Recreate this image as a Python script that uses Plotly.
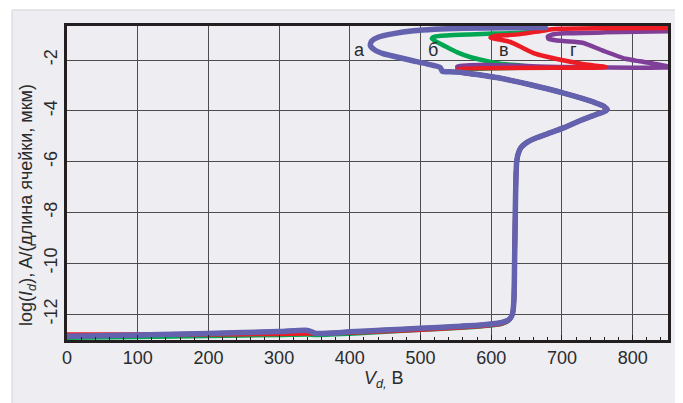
import plotly.graph_objects as go

# ---- data ----
low_x = [0, 100, 200, 300, 340, 352, 400, 450, 500, 550, 590, 615, 625]
blue_low_y = [-12.87, -12.82, -12.76, -12.69, -12.64, -12.76, -12.70, -12.63, -12.56, -12.49, -12.42, -12.33, -12.22]
red_low_y = [-12.80, -12.80, -12.80, -12.78, -12.76, -12.76, -12.73, -12.68, -12.62, -12.54, -12.46, -12.37, -12.24]
green_low_y = [-12.93, -12.90, -12.86, -12.82, -12.80, -12.82, -12.77, -12.70, -12.62, -12.55, -12.47, -12.38, -12.25]

rise_x = [630, 632, 633, 634, 635, 636, 638, 642, 650, 665, 685, 704, 726, 748, 760, 764,
          758, 745, 725, 700, 670, 641, 610, 580, 556]
rise_y = [-12.0, -11.5, -10.0, -8.0, -6.6, -6.0, -5.7, -5.45, -5.25, -5.05, -4.85, -4.65, -4.38, -4.15, -4.03, -3.95,
          -3.80, -3.66, -3.48, -3.28, -3.07, -2.88, -2.70, -2.57, -2.48]

a_x = [540, 531, 528, 510, 486, 465, 447, 435, 429, 431, 440, 462, 490, 520, 560, 620, 680]
a_y = [-2.46, -2.45, -2.30, -2.16, -2.01, -1.87, -1.75, -1.60, -1.42, -1.25, -1.10, -0.96, -0.85, -0.79, -0.75, -0.73, -0.72]

b_x = [552, 660, 641, 613, 590, 570, 552, 537, 524, 516, 520, 537, 570, 603, 641, 665, 680]
b_y = [-2.40, -2.28, -2.21, -2.15, -2.02, -1.88, -1.70, -1.49, -1.30, -1.16, -1.08, -1.03, -0.99, -0.96, -0.93, -0.86, -0.80]

v_x = [552, 762, 729, 691, 662, 641, 627, 613, 602, 599, 605, 623, 641, 665, 690, 760, 850]
v_y = [-2.38, -2.28, -2.15, -1.95, -1.75, -1.47, -1.29, -1.20, -1.15, -1.11, -1.05, -1.02, -0.98, -0.88, -0.78, -0.75, -0.74]

g_x = [552, 700, 853, 832, 810, 790, 757, 729, 705, 691, 681, 680, 686, 705, 760, 850]
g_y = [-2.26, -2.27, -2.28, -2.15, -2.05, -1.95, -1.62, -1.32, -1.26, -1.22, -1.16, -1.08, -1.00, -0.95, -0.91, -0.87]

curve_labels = ["а", "б", "в", "г"]
label_x = [413, 517, 618, 716]
label_y = [-1.62, -1.62, -1.62, -1.62]

x_ticks = [0, 100, 200, 300, 400, 500, 600, 700, 800]
y_ticks = [-12, -10, -8, -6, -4, -2]

# ---- styles ----
FONT = "Liberation Sans Narrow, Arial Narrow, Liberation Sans, Arial, sans-serif"
TXT = "#2b2b2b"
C_BLUE = "#6462AE"
C_GREEN = "#00A651"
C_RED = "#ED1C24"
C_PURPLE = "#7F3F98"
FS = 18

fig = go.Figure()

def add(xs, ys, color, width):
    fig.add_trace(go.Scatter(x=xs, y=ys, mode="lines",
                             line=dict(color=color, width=width, shape="spline", smoothing=0.6),
                             hoverinfo="skip", showlegend=False))

add(low_x + rise_x + b_x, green_low_y + rise_y + b_y, C_GREEN, 4.5)
add(low_x + rise_x + g_x, blue_low_y + rise_y + g_y, C_PURPLE, 4.5)
add(low_x + rise_x + v_x, red_low_y + rise_y + v_y, C_RED, 4.5)
add(low_x + rise_x + a_x, blue_low_y + rise_y + a_y, C_BLUE, 5.5)

for t, x, y in zip(curve_labels, label_x, label_y):
    fig.add_annotation(x=x, y=y, text=t, showarrow=False,
                       font=dict(family=FONT, size=FS, color=TXT),
                       xanchor="center", yanchor="middle")

# axis titles as annotations (placed like the reference)
fig.add_annotation(xref="paper", yref="paper", x=0.527, y=-0.127,
                   text="<i>V</i><sub><i>d,</i></sub> В", showarrow=False,
                   font=dict(family=FONT, size=FS, color=TXT),
                   xanchor="center", yanchor="middle")
fig.add_annotation(xref="paper", yref="paper", x=-0.065, y=0.43,
                   text="log(<i>I</i><sub><i>d</i></sub>), A/(длина ячейки, мкм)",
                   showarrow=False, textangle=-90,
                   font=dict(family=FONT, size=FS, color=TXT),
                   xanchor="center", yanchor="middle")

# light grey panel behind the chart
fig.add_shape(type="rect", xref="paper", yref="paper",
              x0=-0.0915, x1=1.0133, y0=-0.3, y1=1.051,
              fillcolor="#EDEDF2", line=dict(color="#D2D2D8", width=1),
              layer="below")

# the page body adds an 8px offset, so the figure is 8px smaller and left/top margins shifted
fig.update_layout(
    width=675, height=395,
    margin=dict(l=59, r=15, t=18, b=63),
    paper_bgcolor="white",
    plot_bgcolor="white",
    font=dict(family=FONT, size=FS, color=TXT),
    xaxis=dict(range=[0, 850], tickvals=x_ticks, ticktext=[str(v) for v in x_ticks],
               showgrid=True, gridcolor="#4d4d4d", gridwidth=1.4,
               zeroline=False, showline=True, mirror=True,
               linecolor="#231F20", linewidth=2.5,
               ticks="inside", ticklen=5, tickcolor="#231F20", tickwidth=1.2,
               minor=dict(dtick=20, ticks="inside", ticklen=3, tickcolor="#231F20",
                          tickwidth=1.2, showgrid=False),
               tickfont=dict(family=FONT, size=FS, color=TXT)),
    yaxis=dict(range=[-13.02, -0.66], tickvals=y_ticks, ticktext=[str(v) for v in y_ticks],
               tickangle=-90,
               showgrid=True, gridcolor="#4d4d4d", gridwidth=1.4,
               zeroline=False, showline=True, mirror=True,
               linecolor="#231F20", linewidth=2.5, ticks="",
               tickfont=dict(family=FONT, size=FS, color=TXT)),
)

fig.write_html("out.html")
